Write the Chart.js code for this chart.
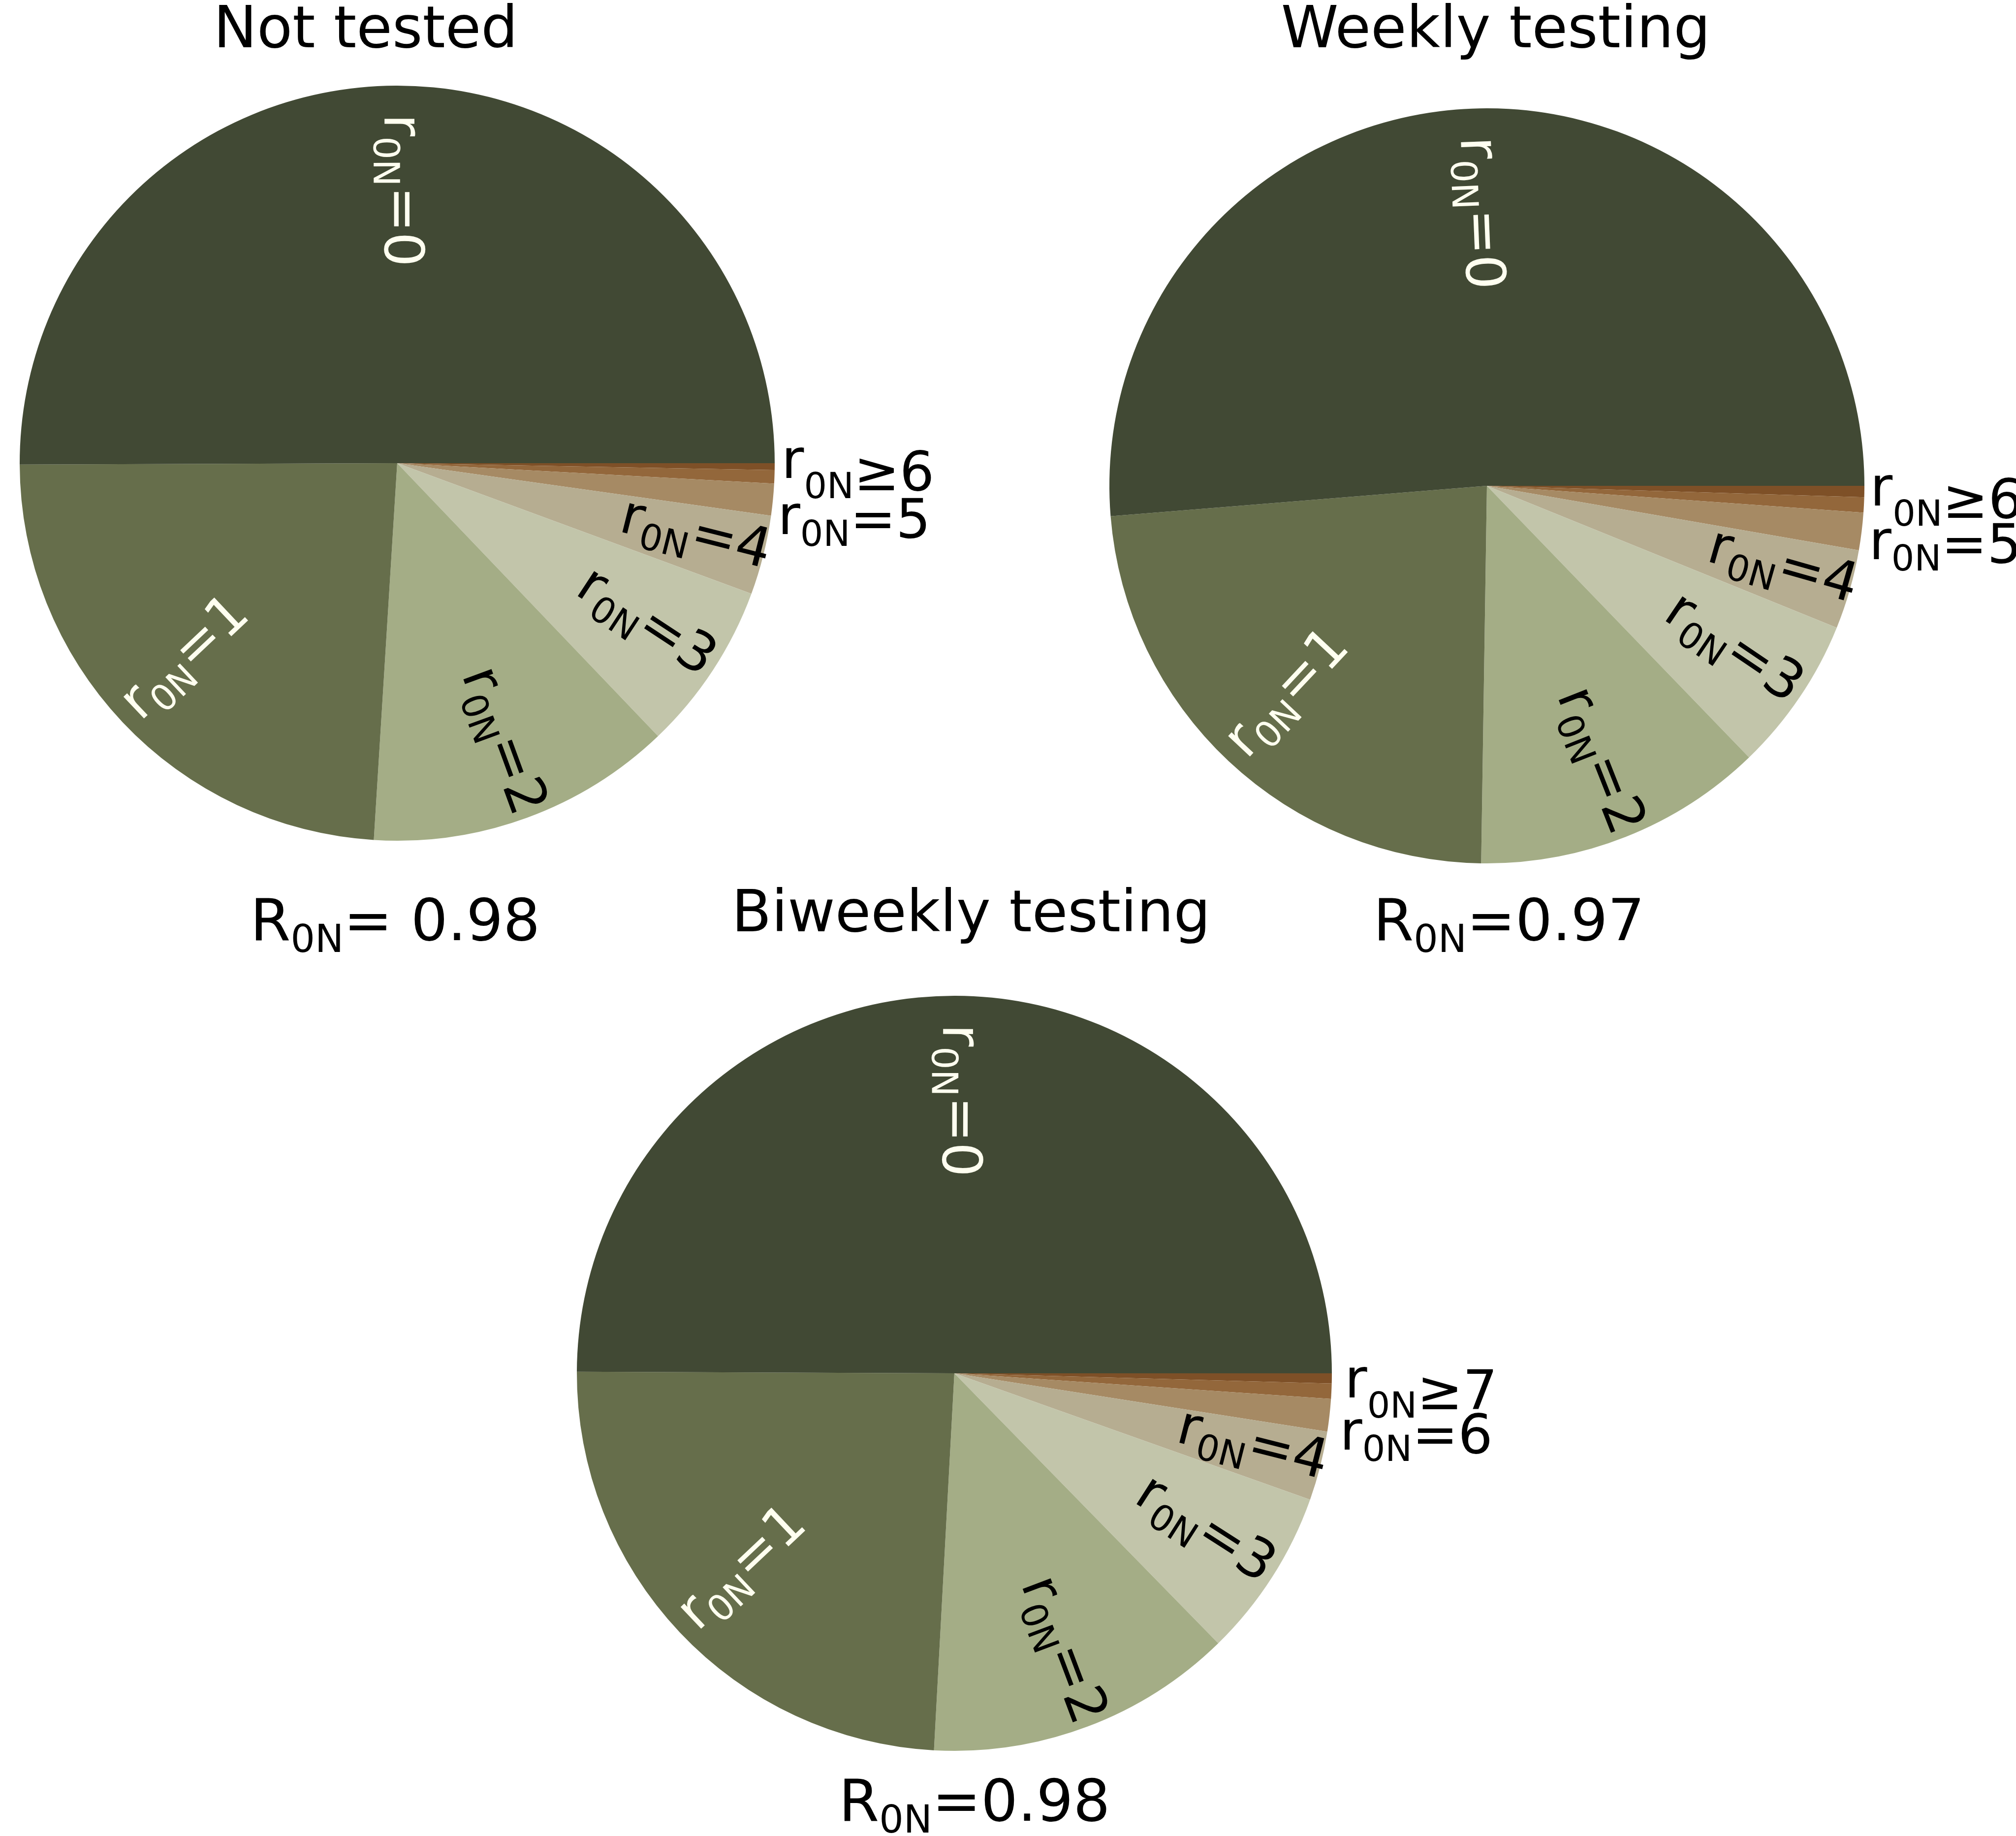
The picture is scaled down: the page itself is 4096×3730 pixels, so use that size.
<!DOCTYPE html>
<html>
<head>
<meta charset="utf-8">
<script src="https://cdn.jsdelivr.net/npm/chart.js@4.4.1/dist/chart.umd.min.js"></script>
<style>
html, body { margin:0; padding:0; background:#ffffff; width:4096px; height:3730px; overflow:hidden; }
canvas { position:absolute; }
</style>
</head>
<body>
<canvas id="c1"></canvas>
<canvas id="c2"></canvas>
<canvas id="c3"></canvas>
<script>
// ---------------- DATA ----------------
const categories = ['0', '1', '2', '3', '4', '5', '6', '7+'];
// shares (%) of each r_0N class, read from the wedges
const notTestedValues = [50.06, 23.96, 13.13, 7.24, 3.40, 1.36, 0.57, 0.29];
const weeklyValues    = [51.28, 23.47, 12.46, 6.65, 3.40, 1.60, 0.65, 0.48];
const biweeklyValues  = [49.93, 24.21, 13.18, 7.25, 2.96, 1.39, 0.65, 0.43];
// wedge label text (after the r_0N symbol); '' = unlabeled wedge
const notTestedLabels = ['=0', '=1', '=2', '=3', '=4', '', '=5', '≥6'];
const weeklyLabels    = ['=0', '=1', '=2', '=3', '=4', '', '=5', '≥6'];
const biweeklyLabels  = ['=0', '=1', '=2', '=3', '=4', '', '=6', '≥7'];
const titles = ['Not tested', 'Weekly testing', 'Biweekly testing'];
const statTexts = ['= 0.98', '=0.97', '=0.98'];

// ---------------- STYLE ----------------
const sliceColors = ['#414934', '#666e4b', '#a4ad86', '#c2c5aa', '#b6ad91', '#a68a64', '#93673b', '#7e5027'];
const labelColors = ['#fffff0', '#fffff0', '#000000', '#000000', '#000000', '#000000', '#000000', '#000000'];
const innerDist = [0.52, 0.56, 0.585, 0.58, 0.61];
const FONT = '"DejaVu Sans", "Liberation Sans", sans-serif';
const LABEL_SIZE = 111;
const TITLE_SIZE = 118;
const R = 767;

const layouts = [
  { id:'c1', left:0,    top:0,    w:2000, h:2000, cx:807,  cy:941,
    title:[-64,-845], stat:[-4,969],
    outer:{6:[1.008,0.197,0.06], 7:[1.018,0.0714,0.22]} },
  { id:'c2', left:2000, top:0,    w:2096, h:2000, cx:3021, cy:987,
    title:[18,-891], stat:[45,923],
    outer:{6:[1.012,0.203,0.06], 7:[1.015,0.0842,0.22]} },
  { id:'c3', left:900,  top:1750, w:2600, h:1980, cx:1939, cy:2790,
    title:[34,-898], stat:[41,909],
    outer:{6:[1.021,0.211,0.06], 7:[1.034,0.0957,0.22]} }
];
const allValues = [notTestedValues, weeklyValues, biweeklyValues];
const allLabels = [notTestedLabels, weeklyLabels, biweeklyLabels];

function richParts(sym, sub, rest, F, raise, drop) {
  return [
    { t: sym,  s: F,        dy: -raise * F },
    { t: sub,  s: 0.66 * F, dy: drop * F },
    { t: rest, s: F,        dy: 0 }
  ];
}
function drawRich(ctx, parts, x, y, align, color) {
  let total = 0;
  for (const p of parts) {
    ctx.font = p.s + 'px ' + FONT;
    p.w = ctx.measureText(p.t).width;
    total += p.w;
  }
  let sx = align === 'left' ? x : (align === 'right' ? x - total : x - total / 2);
  ctx.fillStyle = color;
  ctx.textBaseline = 'alphabetic';
  ctx.textAlign = 'left';
  for (const p of parts) {
    ctx.font = p.s + 'px ' + FONT;
    ctx.fillText(p.t, sx, y + p.dy);
    sx += p.w;
  }
}

const pieText = {
  id: 'pieText',
  afterDraw(chart, args, opts) {
    const ctx = chart.ctx;
    const meta = chart.getDatasetMeta(0);
    const n = opts.labels.length;
    const F = LABEL_SIZE;
    let cx = 0, cy = 0;
    meta.data.forEach((arc, j) => {
      const i = n - 1 - j;
      const p = arc.getProps(['x', 'y', 'startAngle', 'endAngle', 'outerRadius'], true);
      cx = p.x; cy = p.y;
      const txt = opts.labels[i];
      if (!txt) return;
      const rad = p.outerRadius;
      if (opts.outer[i]) {
        const o = opts.outer[i];
        drawRich(ctx, richParts('r', '0N', txt, F, o[2], 0.15),
                 p.x + o[0] * rad, p.y + o[1] * rad, 'left', '#000000');
      } else {
        const a = (p.startAngle + p.endAngle) / 2;
        const outward = Math.cos(a) > 0.02;
        const d = innerDist[i] * rad;
        ctx.save();
        ctx.translate(p.x + d * Math.cos(a), p.y + d * Math.sin(a));
        ctx.rotate(outward ? a : a + Math.PI);
        drawRich(ctx, richParts('r', '0N', txt, F, 0, 0.2), 0, 0.22 * F,
                 outward ? 'left' : 'right', labelColors[i]);
        ctx.restore();
      }
    });
    ctx.save();
    drawRich(ctx, [{ t: opts.title, s: TITLE_SIZE, dy: 0 }],
             cx + opts.titlePos[0], cy + opts.titlePos[1], 'center', '#000000');
    drawRich(ctx, [
      { t: 'R', s: TITLE_SIZE, dy: 0 },
      { t: '0N', s: 0.66 * TITLE_SIZE, dy: 0.2 * TITLE_SIZE },
      { t: opts.stat, s: TITLE_SIZE, dy: 0 }
    ], cx + opts.statPos[0], cy + opts.statPos[1], 'center', '#000000');
    ctx.restore();
  }
};

layouts.forEach((L, k) => {
  const cv = document.getElementById(L.id);
  cv.width = L.w; cv.height = L.h;
  cv.style.left = L.left + 'px'; cv.style.top = L.top + 'px';
  cv.style.width = L.w + 'px'; cv.style.height = L.h + 'px';
  const padL = L.cx - R - L.left;
  const padT = L.cy - R - L.top;
  const padR = L.left + L.w - (L.cx + R);
  const padB = L.top + L.h - (L.cy + R);
  const vals = allValues[k];
  new Chart(cv, {
    type: 'pie',
    data: {
      labels: categories.slice().reverse(),
      datasets: [{
        data: vals.slice().reverse(),
        backgroundColor: sliceColors.slice().reverse(),
        borderWidth: 0,
        hoverOffset: 0,
        offset: 0
      }]
    },
    options: {
      responsive: false,
      maintainAspectRatio: false,
      devicePixelRatio: 1,
      animation: false,
      rotation: 90,
      layout: { padding: { left: padL, right: padR, top: padT, bottom: padB } },
      plugins: {
        legend: { display: false },
        tooltip: { enabled: false },
        pieText: {
          labels: allLabels[k],
          outer: L.outer,
          title: titles[k],
          titlePos: L.title,
          stat: statTexts[k],
          statPos: L.stat
        }
      },
      events: []
    },
    plugins: [pieText]
  });
});
</script>
</body>
</html>
